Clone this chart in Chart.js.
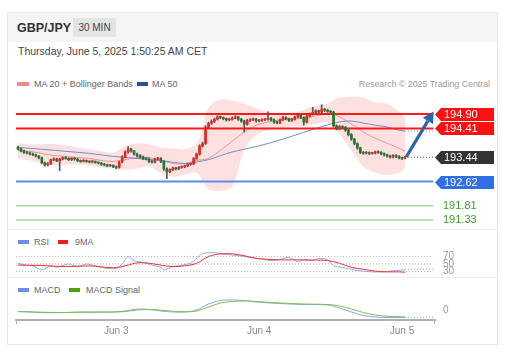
<!DOCTYPE html>
<html><head><meta charset="utf-8">
<script src="https://cdn.jsdelivr.net/npm/chart.js@4.4.1/dist/chart.umd.min.js"></script>
<style>
html,body{margin:0;padding:0;background:#fff;}
body{width:511px;height:356px;position:relative;overflow:hidden;font-family:"Liberation Sans",Arial,sans-serif;}
.a{position:absolute;white-space:nowrap;}
#card{left:7px;top:12px;width:489px;height:331px;border:1px solid #e8e8e8;}
#hdr{left:8px;top:13px;width:489px;height:29px;background:#f5f5f5;}
#sym{left:17px;top:21px;font-size:12.5px;font-weight:bold;color:#333;}
#tf{left:73px;top:18px;width:43px;height:19px;background:#e4e4e4;color:#444;font-size:10px;line-height:19px;text-align:center;}
#date{left:18px;top:45px;font-size:10.5px;color:#444;}
.lg{font-size:9px;color:#666;}
.sw{position:absolute;height:4px;}
.sep{position:absolute;left:8px;width:489px;height:1px;background:#ececec;}
canvas{position:absolute;left:0;}
</style></head>
<body>
<div id="card" class="a"></div>
<div id="hdr" class="a"></div>
<div id="sym" class="a">GBP/JPY</div>
<div id="tf" class="a">30 MIN</div>
<div id="date" class="a">Thursday, June 5, 2025 1:50:25 AM CET</div>

<div class="sw" style="left:17px;top:82px;width:12px;background:#f58a8a"></div>
<div class="a lg" style="left:34px;top:79px">MA 20 + Bollinger Bands</div>
<div class="sw" style="left:137px;top:82px;width:11px;background:#2b4f9c"></div>
<div class="a lg" style="left:152px;top:79px">MA 50</div>
<div class="a lg" style="right:21px;top:79px;color:#9a9a9a;font-size:8.8px">Research © 2025 Trading Central</div>

<div class="sep" style="top:229px"></div>
<div class="sw" style="left:18px;top:240px;width:11px;background:#6f8fe6"></div>
<div class="a lg" style="left:34px;top:237px">RSI</div>
<div class="sw" style="left:58px;top:240px;width:10px;background:#f01c1c"></div>
<div class="a lg" style="left:75px;top:237px">9MA</div>

<div class="sep" style="top:277px"></div>
<div class="sw" style="left:18px;top:288px;width:11px;background:#6f8fe6"></div>
<div class="a lg" style="left:34px;top:285px">MACD</div>
<div class="sw" style="left:69px;top:288px;width:11px;background:#4ca30d"></div>
<div class="a lg" style="left:86px;top:285px">MACD Signal</div>

<canvas id="cMain" width="511" height="136" style="top:92px"></canvas>
<canvas id="cRsi" width="511" height="32" style="top:244px"></canvas>
<canvas id="cMacd" width="511" height="48" style="top:292px"></canvas>

<script>
// ---------- DATA ----------
const opens = [193.78,193.72,193.65,193.60,193.58,193.55,193.52,193.48,193.42,193.25,193.18,193.22,193.35,193.38,193.32,193.38,193.42,193.40,193.36,193.40,193.38,193.32,193.30,193.33,193.30,193.28,193.30,193.27,193.24,193.20,193.18,193.15,193.17,193.12,193.10,193.28,193.45,193.62,193.72,193.65,193.55,193.50,193.45,193.40,193.38,193.30,193.28,193.38,193.40,193.30,193.05,192.95,193.02,193.08,193.05,193.10,193.12,193.15,193.20,193.22,193.40,193.55,193.82,193.90,194.45,194.58,194.65,194.72,194.80,194.78,194.74,194.70,194.72,194.76,194.80,194.72,194.66,194.55,194.68,194.70,194.72,194.66,194.68,194.70,194.72,194.75,194.70,194.62,194.60,194.70,194.78,194.74,194.68,194.72,194.80,194.85,194.78,194.62,194.82,194.90,194.95,195.00,194.96,195.05,195.02,194.98,194.96,194.50,194.40,194.48,194.45,194.35,194.20,194.05,193.90,193.75,193.60,193.58,193.60,193.57,193.58,193.62,193.60,193.56,193.52,193.48,193.45,193.50,193.47,193.42,193.40];
const closes = [193.72,193.65,193.60,193.58,193.55,193.52,193.48,193.42,193.25,193.18,193.22,193.35,193.38,193.32,193.38,193.42,193.40,193.36,193.40,193.38,193.32,193.30,193.33,193.30,193.28,193.30,193.27,193.24,193.20,193.18,193.15,193.17,193.12,193.10,193.28,193.45,193.62,193.72,193.65,193.55,193.50,193.45,193.40,193.38,193.30,193.28,193.38,193.40,193.30,193.05,192.95,193.02,193.08,193.05,193.10,193.12,193.15,193.20,193.22,193.40,193.55,193.82,193.90,194.45,194.58,194.65,194.72,194.80,194.78,194.74,194.70,194.72,194.76,194.80,194.72,194.66,194.55,194.68,194.70,194.72,194.66,194.68,194.70,194.72,194.75,194.70,194.62,194.60,194.70,194.78,194.74,194.68,194.72,194.80,194.85,194.78,194.62,194.82,194.90,194.95,195.00,194.96,195.05,195.02,194.98,194.96,194.50,194.40,194.48,194.45,194.35,194.20,194.05,193.90,193.75,193.60,193.58,193.60,193.57,193.58,193.62,193.60,193.56,193.52,193.48,193.45,193.50,193.47,193.42,193.40,193.44];
const highs = [193.82,193.75,193.68,193.63,193.61,193.58,193.55,193.50,193.45,193.28,193.26,193.38,193.42,193.41,193.41,193.45,193.46,193.43,193.43,193.43,193.40,193.35,193.36,193.35,193.32,193.33,193.32,193.29,193.27,193.23,193.21,193.20,193.19,193.15,193.31,193.49,193.66,193.80,193.75,193.67,193.58,193.53,193.48,193.43,193.41,193.33,193.41,193.44,193.43,193.33,193.08,193.05,193.11,193.10,193.13,193.15,193.18,193.23,193.25,193.43,193.58,193.86,193.95,194.50,194.62,194.70,194.76,194.84,194.83,194.80,194.76,194.75,194.80,194.84,194.82,194.75,194.69,194.72,194.74,194.76,194.75,194.71,194.73,194.75,194.97,194.78,194.73,194.66,194.73,194.82,194.81,194.76,194.75,194.83,194.89,194.88,194.80,194.85,194.93,195.12,195.04,195.03,195.21,195.09,195.06,195.01,194.99,194.53,194.51,194.50,194.48,194.38,194.24,194.08,193.93,193.78,193.63,193.63,193.62,193.61,193.65,193.66,193.63,193.59,193.55,193.51,193.53,193.53,193.50,193.45,193.47];
const lows = [193.69,193.62,193.57,193.55,193.52,193.49,193.45,193.38,193.22,193.14,193.15,193.19,193.32,193.29,192.99,193.35,193.37,193.33,193.33,193.34,193.29,193.27,193.28,193.27,193.25,193.25,193.24,193.21,193.17,193.15,193.12,193.13,193.09,193.05,193.07,193.25,193.42,193.58,193.61,193.51,193.45,193.41,193.36,193.35,193.26,193.24,193.25,193.35,193.26,193.00,192.72,192.92,192.99,193.01,193.02,193.07,193.09,193.12,193.17,193.19,193.37,193.51,193.78,193.87,194.41,194.55,194.61,194.69,194.74,194.70,194.66,194.67,194.69,194.73,194.68,194.62,194.29,194.52,194.64,194.67,194.62,194.63,194.65,194.67,194.69,194.66,194.58,194.56,194.57,194.67,194.70,194.64,194.65,194.69,194.77,194.74,194.52,194.59,194.79,194.86,194.92,194.93,194.93,194.98,194.95,194.93,194.46,194.36,194.37,194.41,194.31,194.16,194.01,193.86,193.71,193.56,193.54,193.55,193.53,193.54,193.55,193.57,193.52,193.48,193.44,193.41,193.42,193.43,193.38,193.36,193.38];

// Bollinger bands / MA20 (sampled at candle indices)
const bbIdx   = [0,4,8,12,16,20,24,28,32,36,40,44,48,52,56,60,62,64,68,72,76,80,84,88,92,96,100,104,106,108,112,116,120,124,128,130];
const bbUpper = [193.91,193.88,193.88,193.88,193.84,193.77,193.71,193.64,193.60,193.81,193.91,193.88,193.77,193.74,193.71,193.91,194.42,195.10,195.38,195.34,195.24,195.10,194.97,194.93,194.93,195.04,195.17,195.24,195.38,195.45,195.48,195.45,195.28,195.24,194.97,194.76];
const bbLower = [193.40,193.33,193.23,193.19,193.19,193.19,193.16,193.09,193.06,193.02,193.06,193.13,192.92,192.78,192.85,192.92,192.65,192.37,192.31,192.48,193.67,194.18,194.35,194.42,194.49,194.49,194.56,194.63,194.42,194.22,193.67,193.13,192.92,192.85,192.92,193.06];
const ma20    = [193.67,193.64,193.57,193.50,193.47,193.43,193.40,193.33,193.30,193.36,193.43,193.43,193.33,193.23,193.23,193.33,193.36,193.40,193.67,193.98,194.29,194.52,194.63,194.70,194.73,194.76,194.83,194.90,194.88,194.80,194.56,194.29,194.08,193.91,193.74,193.64];
const ma50Idx = [0,8,16,24,32,40,48,56,60,64,72,80,88,96,104,108,112,116,120,124,128,130];
const ma50    = [193.77,193.71,193.64,193.57,193.47,193.40,193.33,193.23,193.28,193.36,193.62,193.80,194.02,194.28,194.53,194.63,194.66,194.59,194.52,194.46,194.35,194.32];

// Key levels
const resistLevels = [194.90, 194.41];
const lastPrice = 193.44;
const supportLevel = 192.62;
const greenLevels = [191.81, 191.33];
const arrowFrom = [130.4, 193.45];
const arrowTo = [139.6, 194.98];

// RSI
const rsiIdx = [0,3,5,8,11,13,17,20,23,26,30,33,35,37,39,41,43,45,48,49,52,55,58,60,62,66,68,72,77,81,85,88,91,94,96,99,101,104,106,109,113,116,119,123,126,129,130];
const rsiVal = [52,46,45,34,45,41,50,43,50,45,38,38,50,70,59,56,52,47,41,34,43,47,52,65,78,81,77,74,69,64,59,62,68,56,61,59,65,62,45,41,34,31,29,29,32,34,34];
const rsiMaIdx = [0,8,16,24,32,36,40,44,48,52,56,60,64,68,72,76,80,88,96,104,108,112,116,120,124,128,130];
const rsiMaVal = [47,46,43,45,40,45,53,52,47,43,45,52,70,77,77,72,65,61,61,59,52,41,36,31,29,29,28];
const rsiLevels = [70, 50, 30];

// MACD
const macdIdx = [0,4,8,12,16,20,24,28,32,36,40,44,48,52,56,60,64,68,72,76,80,88,96,104,108,112,116,120,124,128,130];
const macdVal = [-0.017,-0.02,-0.027,-0.027,-0.025,-0.02,-0.02,-0.02,-0.02,-0.01,0.01,0.005,-0.01,-0.02,-0.02,0,0.06,0.095,0.10,0.095,0.08,0.065,0.055,0.05,0.02,-0.02,-0.055,-0.07,-0.075,-0.075,-0.073];
const signalVal = [-0.015,-0.018,-0.022,-0.024,-0.025,-0.023,-0.022,-0.021,-0.02,-0.015,0.0,0.005,-0.002,-0.012,-0.018,-0.01,0.03,0.07,0.085,0.09,0.085,0.07,0.06,0.055,0.04,0.01,-0.025,-0.05,-0.062,-0.068,-0.07];

// X axis ticks (candle index -> label)
const tickIdx = [33, 81, 129];
const tickLabels = ['Jun 3', 'Jun 4', 'Jun 5'];
const xMin = -0.67, xMax = 140.08, xLineEnd = 139.5;

// ---------- HELPERS ----------
const zip = (xs, ys) => xs.map((x, i) => ({x, y: ys[i]}));
const hline = (v) => [{x: xMin, y: v}, {x: xLineEnd, y: v}];
const ext = (v) => [{x: 130, y: v}, {x: xLineEnd, y: v}];
const UP = '#e8261f', DN = '#1f7a2c';
const candleColor = (c) => closes[c.dataIndex] >= opens[c.dataIndex] ? UP : DN;
const FONT = '"Liberation Sans", Arial, sans-serif';
const xScale = {type: 'linear', min: xMin, max: xMax, offset: false, display: false};
const baseOpts = (extra) => Object.assign({
  responsive: false, animation: false, devicePixelRatio: 1,
  layout: {padding: {left: 16, right: 76, top: 0, bottom: 0}},
  plugins: {legend: {display: false}, tooltip: {enabled: false}},
  elements: {point: {radius: 0}},
}, extra);
const lineDs = (data, color, width, extra) => Object.assign({type: 'line', data, borderColor: color, borderWidth: width, pointRadius: 0, fill: false, tension: 0.35}, extra || {});

// ---------- MAIN CHART ----------
const mainPlugin = {
  id: 'mainLabels',
  afterDatasetsDraw(chart) {
    const {ctx, chartArea, scales: {x, y}} = chart;
    ctx.save();
    const drawBox = (v, color) => {
      const py = Math.round(y.getPixelForValue(v)) + 0.5;
      const x0 = chartArea.right, x1 = 494, h = 13;
      ctx.fillStyle = color;
      ctx.beginPath();
      ctx.moveTo(x0, py); ctx.lineTo(x0 + 6, py - h / 2); ctx.lineTo(x1, py - h / 2);
      ctx.lineTo(x1, py + h / 2); ctx.lineTo(x0 + 6, py + h / 2); ctx.closePath(); ctx.fill();
      ctx.fillStyle = '#fff'; ctx.font = '11px ' + FONT; ctx.textBaseline = 'middle';
      ctx.fillText(v.toFixed(2), x0 + 9, py + 0.5);
    };
    resistLevels.forEach(v => drawBox(v, '#ff1010'));
    drawBox(lastPrice, '#333333');
    drawBox(supportLevel, '#2f6fe6');
    ctx.fillStyle = '#3f9a2e'; ctx.font = '11px ' + FONT; ctx.textBaseline = 'middle';
    greenLevels.forEach(v => ctx.fillText(v.toFixed(2), chartArea.right + 8, y.getPixelForValue(v)));
    // arrow
    const ax0 = x.getPixelForValue(arrowFrom[0]), ay0 = y.getPixelForValue(arrowFrom[1]);
    const ax1 = x.getPixelForValue(arrowTo[0]), ay1 = y.getPixelForValue(arrowTo[1]);
    const ang = Math.atan2(ay1 - ay0, ax1 - ax0), hl = 11, hw = 6;
    const bx = ax1 - hl * Math.cos(ang), by = ay1 - hl * Math.sin(ang);
    ctx.strokeStyle = '#2d62ad'; ctx.lineWidth = 3.2; ctx.lineCap = 'butt';
    ctx.beginPath(); ctx.moveTo(ax0, ay0); ctx.lineTo(bx, by); ctx.stroke();
    ctx.fillStyle = '#2d62ad';
    ctx.beginPath(); ctx.moveTo(ax1, ay1);
    ctx.lineTo(bx + hw * Math.sin(ang), by - hw * Math.cos(ang));
    ctx.lineTo(bx - hw * Math.sin(ang), by + hw * Math.cos(ang));
    ctx.closePath(); ctx.fill();
    ctx.restore();
  }
};

new Chart(document.getElementById('cMain'), {
  type: 'bar',
  data: {datasets: [
    {type: 'bar', data: closes.map((c, i) => ({x: i, y: [Math.min(opens[i], c), Math.max(opens[i], c)]})),
      backgroundColor: candleColor, barThickness: 2, minBarLength: 1, grouped: false, order: 0},
    {type: 'bar', data: closes.map((c, i) => ({x: i, y: [lows[i], highs[i]]})),
      backgroundColor: '#555', barThickness: 1, grouped: false, order: 1},
    lineDs(hline(resistLevels[0]), '#ff1a1a', 2, {tension: 0, order: 2}),
    lineDs(hline(resistLevels[1]), '#ff1a1a', 2, {tension: 0, order: 2}),
    lineDs(hline(supportLevel), '#5b8ee8', 2, {tension: 0, order: 2}),
    lineDs(hline(greenLevels[0]), '#a8d99e', 1.5, {tension: 0, order: 2}),
    lineDs(hline(greenLevels[1]), '#a8d99e', 1.5, {tension: 0, order: 2}),
    lineDs(ext(lastPrice), '#555', 1, {tension: 0, borderDash: [1, 2], order: 2}),
    lineDs(ext(ma50[ma50.length - 1]), '#8aa0c8', 1, {tension: 0, borderDash: [1, 2], order: 2}),
    lineDs(zip(ma50Idx, ma50), '#6d8fcf', 1, {order: 3}),
    lineDs(zip(bbIdx, ma20), 'rgba(240,120,120,0.75)', 1, {order: 4}),
    lineDs(zip(bbIdx, bbUpper), 'rgba(0,0,0,0)', 0, {fill: '+1', backgroundColor: 'rgba(248,135,135,0.25)', order: 10, tension: 0.4}),
    lineDs(zip(bbIdx, bbLower), 'rgba(0,0,0,0)', 0, {order: 11, tension: 0.4}),
  ]},
  options: baseOpts({scales: {x: xScale, y: {display: false, min: 191.058, max: 195.637}}}),
  plugins: [mainPlugin]
});

// ---------- RSI ----------
const rsiPlugin = {
  id: 'rsiLabels',
  afterDatasetsDraw(chart) {
    const {ctx, chartArea, scales: {y}} = chart;
    ctx.save();
    ctx.fillStyle = '#9a9a9a'; ctx.font = '10px ' + FONT; ctx.textBaseline = 'middle';
    rsiLevels.forEach(v => ctx.fillText(String(v), chartArea.right + 8, y.getPixelForValue(v)));
    ctx.restore();
  }
};
new Chart(document.getElementById('cRsi'), {
  type: 'line',
  data: {datasets: [
    lineDs(zip(rsiMaIdx, rsiMaVal), '#f23030', 1, {order: 0}),
    lineDs(zip(rsiIdx, rsiVal), '#8ea8f2', 1, {order: 1, tension: 0.2}),
    lineDs(ext(rsiVal[rsiVal.length - 1] + 2), '#8ea8f2', 1, {tension: 0, borderDash: [1, 2], order: 1}),
    ...rsiLevels.map(v => lineDs(hline(v), '#b8b8b8', 1, {tension: 0, borderDash: [1, 2], order: 5})),
  ]},
  options: baseOpts({scales: {x: xScale, y: {display: false, min: 18, max: 103.3}}}),
  plugins: [rsiPlugin]
});

// ---------- MACD ----------
const macdPlugin = {
  id: 'macdLabels',
  afterDraw(chart) {
    const {ctx, chartArea, scales: {y}} = chart;
    ctx.save();
    ctx.fillStyle = '#9a9a9a'; ctx.font = '10px ' + FONT; ctx.textBaseline = 'middle';
    ctx.fillText('0', chartArea.right + 8, y.getPixelForValue(0));
    ctx.strokeStyle = '#b0b0b0'; ctx.lineWidth = 1;
    [chartArea.left + 0.5, chartArea.right - 0.5].forEach(px => {
      ctx.beginPath(); ctx.moveTo(px, chartArea.bottom); ctx.lineTo(px, chartArea.bottom + 4); ctx.stroke();
    });
    ctx.restore();
  }
};
new Chart(document.getElementById('cMacd'), {
  type: 'line',
  data: {datasets: [
    lineDs(zip(macdIdx, signalVal), '#78c04a', 1, {order: 0}),
    lineDs(zip(macdIdx, macdVal), '#8aa4f0', 1, {order: 1}),
    lineDs(ext(macdVal[macdVal.length - 1]), '#8aa4f0', 1, {tension: 0, borderDash: [1, 2], order: 1}),
  ]},
  options: baseOpts({
    scales: {
      x: {type: 'linear', min: xMin, max: xMax, offset: false, display: true,
        grid: {display: false, drawTicks: false}, border: {display: true, color: '#b0b0b0', width: 2},
        afterBuildTicks: (s) => { s.ticks = tickIdx.map(v => ({value: v})); },
        afterFit: (s) => { s.height = 20; },
        ticks: {autoSkip: false, maxRotation: 0, color: '#8a8a8a', padding: 5, font: {size: 10, family: FONT},
          callback: (v) => { const k = tickIdx.indexOf(v); return k >= 0 ? tickLabels[k] : ''; }}},
      y: {display: false, min: -0.10, max: 0.18}
    }
  }),
  plugins: [macdPlugin]
});
</script>
</body></html>
